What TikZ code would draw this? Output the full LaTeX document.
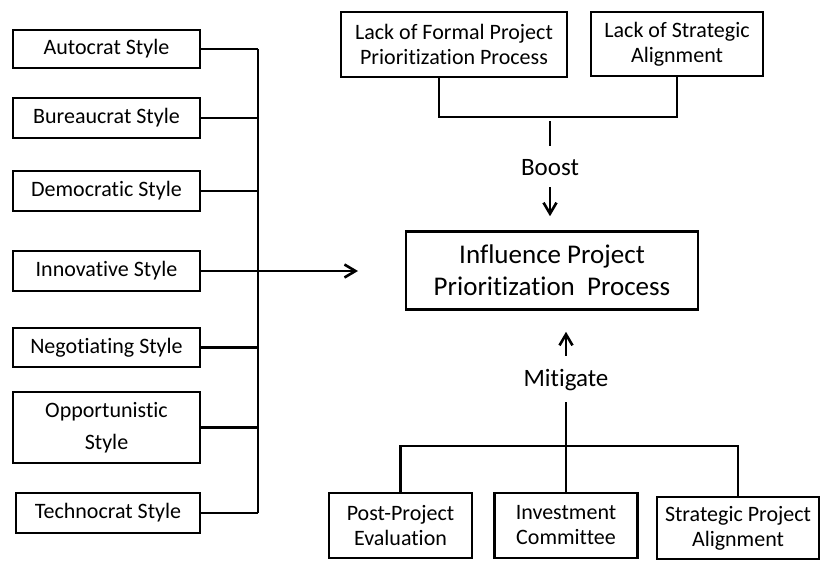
\documentclass[tikz,border=0pt]{standalone}
\usepackage{fontspec}
\setmainfont{Carlito}[Ligatures=NoCommon]
\usetikzlibrary{arrows.meta,calc}

\tikzset{
  box/.style={draw, align=center, inner sep=0pt, font=\fontsize{22}{25}\selectfont},
  lbl/.style={inner sep=0pt, font=\fontsize{25}{30}\selectfont},
  arr/.style={-{Straight Barb[length=11pt,width=13pt]}},
}

\begin{document}
\begin{tikzpicture}[x=1pt,y=-1pt,line width=2.6pt]
\clip (0,0) rectangle (822,560);
\fill[white] (0,0) rectangle (822,560);

% Leadership styles
\node[box,minimum width=187pt,minimum height=38pt] (auto) at (106.5,49) {Autocrat Style};
\node[box,minimum width=187pt,minimum height=40pt] (bur) at (106.5,118) {Bureaucrat Style};
\node[box,minimum width=187pt,minimum height=40pt] (dem) at (106.5,191) {Democratic Style};
\node[box,minimum width=187pt,minimum height=40pt] (inn) at (106.5,271) {Innovative Style};
\node[box,minimum width=187pt,minimum height=39pt] (neg) at (106.5,347.5) {Negotiating Style};
\node[box,minimum width=187pt,minimum height=71pt,font=\fontsize{22}{32}\selectfont] (opp) at (106.5,427.5) {Opportunistic\\Style};
\node[box,minimum width=184pt,minimum height=40pt] (tech) at (108,513) {Technocrat Style};
\coordinate (bus) at (258,0);
\coordinate (target) at (358,271);

% Central process
\node[box,minimum width=292pt,minimum height=78pt,font=\fontsize{27}{32}\selectfont] (infl) at (552,270.5) {Influence Project\\Prioritization\ \ Process};

% Boosting factors
\node[box,minimum width=226pt,minimum height=65pt] (lfp) at (454,44.5) {Lack of Formal Project\\Prioritization Process};
\node[box,minimum width=172pt,minimum height=64pt] (lsa) at (677,44) {Lack of Strategic\\Alignment};
\coordinate (tj) at (550,117);
\node[lbl] (boost) at (550,168) {Boost};

% Mitigating factors
\node[box,minimum width=143pt,minimum height=65pt] (ppe) at (400.5,525.5) {Post-Project\\Evaluation};
\node[box,minimum width=143pt,minimum height=65pt] (ic) at (566,525.5) {Investment\\Committee};
\node[box,minimum width=162pt,minimum height=62pt] (spa) at (738,528) {Strategic Project\\Alignment};
\coordinate (bj) at (566,446);
\node[lbl] (mit) at (566,380) {Mitigate};

% Styles bus
\draw (auto.east -| bus) -- (tech.east -| bus);
\foreach \s in {auto,bur,dem,inn,neg,opp,tech}
  \draw (\s.east) -- (\s.east -| bus);
\draw[arr] (inn.east -| bus) -- (target);

% Boost branch
\draw ([xshift=-15pt]lfp.south) |- (tj) -| (lsa.south);
\draw[shorten <=4pt, shorten >=13pt] (tj) -- (boost.north);
\draw[arr, shorten <=10pt, shorten >=14pt] (boost.south) -- (boost.south |- infl.north);

% Mitigate branch
\draw (ppe.north) |- (bj) -| (spa.north);
\draw (ic.north) -- (bj);
\draw[shorten >=10pt] (bj) -- (mit.south);
\draw[arr, shorten <=12pt, shorten >=21pt] (mit.north) -- (mit.north |- infl.south);
\end{tikzpicture}
\end{document}
